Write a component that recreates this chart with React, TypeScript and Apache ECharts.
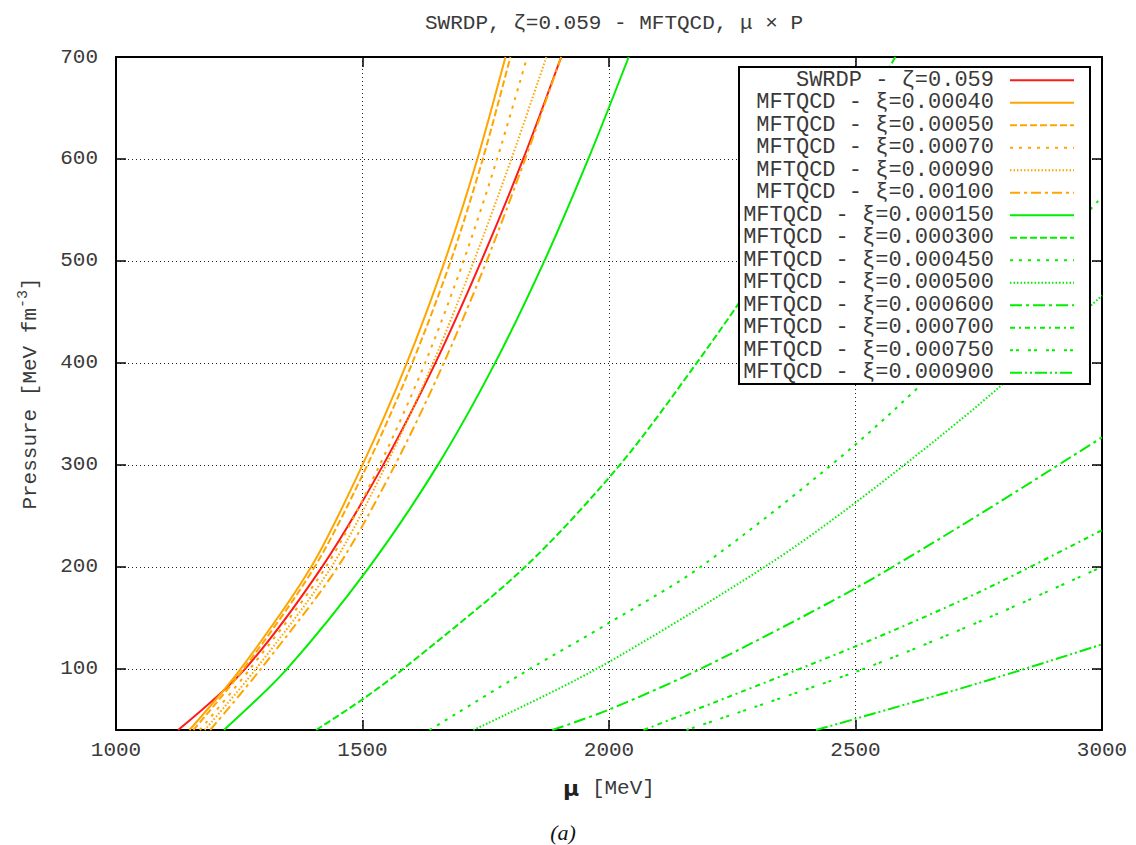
import React, { useEffect, useRef } from "react";
import * as echarts from "echarts";

// ---- data: [mu (MeV), P (MeV fm^-3)] ----
const swrdp = [[1126, 40], [1262, 100], [1418, 200], [1542, 300], [1648, 400], [1741, 500], [1826, 600], [1903, 700]];
const o00040 = [[1149, 40], [1253, 100], [1396, 200], [1500, 300], [1590, 400], [1667, 500], [1733, 600], [1790, 700]];
const o00050 = [[1157, 40], [1259, 100], [1403, 200], [1510, 300], [1601, 400], [1679, 500], [1744, 600], [1800, 700]];
const o00070 = [[1170, 40], [1272, 100], [1426, 200], [1535, 300], [1627, 400], [1705, 500], [1773, 600], [1834, 700]];
const o00090 = [[1180, 40], [1284, 100], [1437, 200], [1548, 300], [1643, 400], [1726, 500], [1802, 600], [1873, 700]];
const o00100 = [[1191, 40], [1294, 100], [1450, 200], [1566, 300], [1665, 400], [1752, 500], [1830, 600], [1903, 700]];
const g000150 = [[1219, 40], [1347, 100], [1514, 200], [1653, 300], [1769, 400], [1869, 500], [1958, 600], [2040, 700]];
const g000300 = [[1406, 40], [1500, 70], [1583, 100], [1830, 200], [2022, 300], [2178, 400], [2322, 500], [2456, 600], [2581, 700]];
const g000450 = [[1636, 40], [1840, 100], [2000, 145], [2186, 200], [2500, 320], [2750, 434], [3000, 563]];
const g000500 = [[1725, 40], [1975, 100], [2316, 200], [2500, 263], [2750, 359], [3000, 466]];
const g000600 = [[1885, 40], [2000, 60], [2186, 100], [2500, 179], [2750, 251], [3000, 327]];
const g000700 = [[2070, 40], [2500, 122], [2750, 175], [3000, 236]];
const g000750 = [[2157, 40], [2500, 97], [2750, 146], [3000, 200]];
const g000900 = [[2420, 40], [2500, 51], [2750, 86], [3000, 124]];

const seriesNames = [
  "SWRDP - ζ=0.059",
  "MFTQCD - ξ=0.00040",
  "MFTQCD - ξ=0.00050",
  "MFTQCD - ξ=0.00070",
  "MFTQCD - ξ=0.00090",
  "MFTQCD - ξ=0.00100",
  "MFTQCD - ξ=0.000150",
  "MFTQCD - ξ=0.000300",
  "MFTQCD - ξ=0.000450",
  "MFTQCD - ξ=0.000500",
  "MFTQCD - ξ=0.000600",
  "MFTQCD - ξ=0.000700",
  "MFTQCD - ξ=0.000750",
  "MFTQCD - ξ=0.000900",
];
const seriesData = [swrdp, o00040, o00050, o00070, o00090, o00100, g000150, g000300, g000450, g000500, g000600, g000700, g000750, g000900];

const RED = "#ff1a1a";
const ORANGE = "#ffa500";
const GREEN = "#00ee00";
const seriesColors = [RED, ORANGE, ORANGE, ORANGE, ORANGE, ORANGE, GREEN, GREEN, GREEN, GREEN, GREEN, GREEN, GREEN, GREEN];
const seriesDash: any[] = [
  "solid",
  "solid",
  [7, 3],
  [3, 6],
  [1.5, 2],
  [10, 4, 3, 4],
  "solid",
  [7, 3],
  [3, 6],
  [1.5, 2],
  [12, 4, 3, 4],
  [5, 4, 2, 4],
  [3, 3, 3, 9],
  [12, 3, 2, 3, 2, 3],
];

const FONT = "Liberation Mono";
const TXT = "#3a3a3a";

export default function App() {
  const ref = useRef<HTMLDivElement>(null);
  useEffect(() => {
    if (!ref.current) return;
    const chart = echarts.init(ref.current, undefined, { renderer: "svg" });
    const axisCommon = {
      type: "value",
      axisLine: { show: true, onZero: false, lineStyle: { color: "#000", width: 2 } },
      axisTick: { show: true, inside: true, length: 10, lineStyle: { color: "#000", width: 1.5 } },
    };
    chart.setOption({
      animation: false,
      backgroundColor: "#fff",
      title: {
        text: "SWRDP, ζ=0.059 - MFTQCD, μ × P",
        left: 609,
        top: 7,
        textAlign: "center",
        textStyle: { fontFamily: FONT, fontSize: 21, fontWeight: "normal", color: TXT, lineHeight: 22 },
      },
      grid: { left: 116, right: 34, top: 57, bottom: 115, containLabel: false },
      legend: {
        orient: "vertical",
        left: 739,
        top: 67,
        align: "right",
        itemWidth: 64,
        itemHeight: 14,
        itemGap: 0,
        padding: [2, 15, 0, 3],
        backgroundColor: "#fff",
        borderColor: "#000",
        borderWidth: 2,
        borderRadius: 0,
        itemStyle: { opacity: 0 },
        textStyle: { fontFamily: FONT, fontSize: 22, color: TXT, lineHeight: 22.5, width: 252, align: "right", padding: [0, 11, 0, 0] },
        data: seriesNames,
      },
      xAxis: [
        {
          ...axisCommon,
          position: "bottom",
          min: 1000,
          max: 3000,
          interval: 500,
          axisLabel: { fontFamily: FONT, fontSize: 21, color: TXT, margin: 10, formatter: (v: number) => String(v) },
          splitLine: { show: true, lineStyle: { color: "#222", width: 1, type: [1, 3] } },
          name: "{mu|μ} [MeV]",
          nameLocation: "middle",
          nameGap: 47,
          nameTextStyle: {
            fontFamily: FONT,
            fontSize: 21,
            color: TXT,
            rich: { mu: { fontFamily: "DejaVu Sans", fontSize: 22, fontWeight: "bold", color: "#222" } },
          },
        },
        {
          ...axisCommon,
          position: "top",
          min: 1000,
          max: 3000,
          interval: 500,
          axisLabel: { show: false },
          splitLine: { show: false },
        },
      ],
      yAxis: [
        {
          ...axisCommon,
          position: "left",
          min: 40,
          max: 700,
          splitNumber: 7,
          minInterval: 100,
          maxInterval: 100,
          axisLabel: { fontFamily: FONT, fontSize: 21, color: TXT, margin: 18, showMinLabel: false, formatter: (v: number) => String(v) },
          splitLine: { show: true, lineStyle: { color: "#222", width: 1, type: [1, 3] } },
          name: "Pressure [MeV fm{sup|-3}]",
          nameLocation: "middle",
          nameRotate: 90,
          nameGap: 71,
          nameTextStyle: {
            fontFamily: FONT,
            fontSize: 21,
            color: TXT,
            rich: { sup: { fontFamily: FONT, fontSize: 15, color: TXT, verticalAlign: "bottom", padding: [0, 0, 14, 0] } },
          },
        },
        {
          ...axisCommon,
          position: "right",
          min: 40,
          max: 700,
          splitNumber: 7,
          minInterval: 100,
          maxInterval: 100,
          axisLabel: { show: false },
          splitLine: { show: false },
        },
      ],
      graphic: [
        {
          type: "text",
          style: {
            text: "(a)",
            x: 563,
            y: 832,
            align: "center",
            verticalAlign: "middle",
            fontSize: 22,
            fontFamily: "Liberation Serif",
            fontStyle: "italic",
            fill: "#111",
          },
        },
      ],
      series: seriesNames.map((name, i) => ({
        name,
        type: "line",
        xAxisIndex: 0,
        yAxisIndex: 0,
        data: seriesData[i],
        symbol: "none",
        showSymbol: false,
        smooth: 0.3,
        clip: true,
        color: seriesColors[i],
        lineStyle: { color: seriesColors[i], width: 2, type: seriesDash[i] },
      })),
    });
    return () => chart.dispose();
  }, []);
  return <div ref={ref} style={{ position: "fixed", left: 0, top: 0, width: 1136, height: 845 }} />;
}
